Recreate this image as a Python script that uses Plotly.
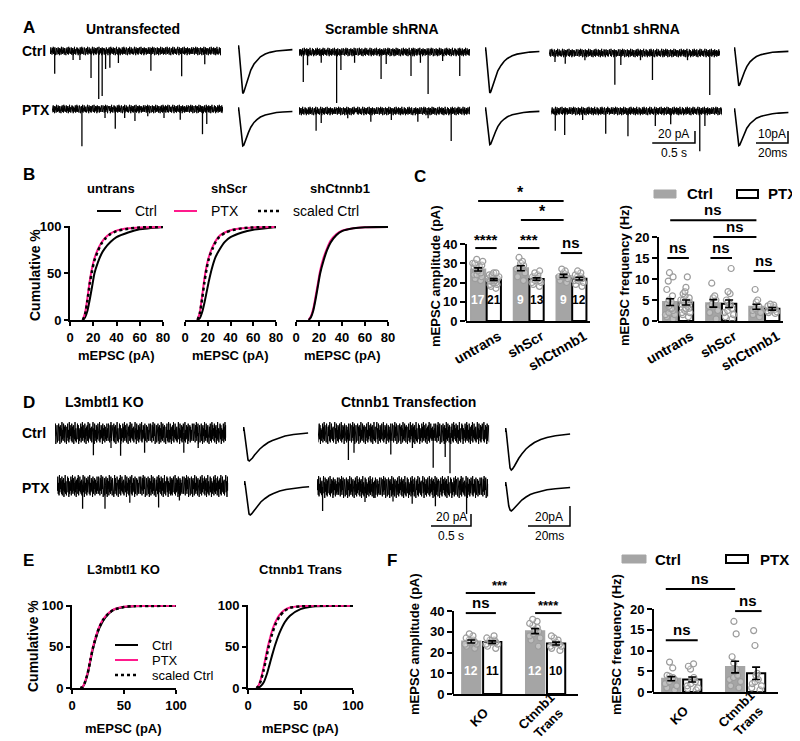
import plotly.graph_objects as go

W, H = 800, 741

# ======================= DATA =======================
# --- Panel A: example mEPSC traces, event times (s) and amplitudes (pA)
A_UNTR_CTRL_T = [0.055, 0.27, 0.35, 0.48, 0.57, 0.61, 0.65, 0.70, 0.80, 1.18, 1.54, 1.81]
A_UNTR_CTRL_AMP = [38, 15, 15, 45, 80, 75, 30, 28, 20, 33, 42, 22]
A_UNTR_PTX_T = [0.35, 0.62, 0.74, 0.85, 0.97, 1.12, 1.31, 1.50, 1.76, 1.81]
A_UNTR_PTX_AMP = [62, 15, 33, 15, 20, 12, 15, 18, 42, 25]
A_SCR_CTRL_T = [0.05, 0.10, 0.26, 0.44, 0.49, 0.65, 0.96, 1.02, 1.31, 1.42, 1.51, 1.68, 1.88]
A_SCR_CTRL_AMP = [50, 22, 18, 85, 30, 18, 45, 20, 40, 18, 70, 15, 40]
A_SCR_PTX_T = [0.20, 0.26, 0.57, 0.84, 1.08, 1.39, 1.51, 1.78]
A_SCR_PTX_AMP = [33, 20, 12, 18, 15, 18, 12, 50]
A_CTN_CTRL_T = [0.07, 0.19, 0.42, 0.77, 0.84, 1.07, 1.21, 1.62, 1.88]
A_CTN_CTRL_AMP = [15, 18, 12, 53, 20, 12, 45, 12, 70]
A_CTN_PTX_T = [0.05, 0.16, 0.37, 0.64, 0.90, 1.22, 1.40, 1.74, 1.80]
A_CTN_PTX_AMP = [33, 40, 15, 38, 42, 25, 22, 67, 25]

# --- Panel D: example traces
D_KO_CTRL_T = [0.48, 0.70, 0.82, 1.12, 1.61, 1.79]
D_KO_CTRL_AMP = [37, 25, 38, 33, 33, 25]
D_KO_PTX_T = [0.32, 0.60, 0.91, 1.27, 1.53]
D_KO_PTX_AMP = [38, 38, 28, 36, 24]
D_TR_CTRL_T = [0.38, 0.45, 0.91, 1.18, 1.44, 1.59, 1.65]
D_TR_CTRL_AMP = [45, 33, 36, 25, 58, 40, 67]
D_TR_PTX_T = [0.07, 0.60, 0.95, 1.19, 1.48, 1.87]
D_TR_PTX_AMP = [40, 25, 24, 28, 32, 45]

# baseline noise (pA), read as the band thickness of the recordings
NOISE_PA = [3, -5, 6, -4, 2, -6, 5, -3, 7, -5, 4, -2, 6, -7, 3, -4, 5, -6, 2, -3,
            6, -5, 4, -7, 5, -2, 3, -6, 7, -4, 2, -5, 6, -3, 4, -6, 5, -4, 3, -7,
            4, -3, 6, -5, 2, -6, 7, -4, 5, -2, 3, -5, 6, -6, 4, -3, 5, -7, 2, -4,
            7, -5, 3, -6, 4, -2, 6, -4, 5, -7, 3, -5, 2, -3, 6, -6, 4, -4, 7, -5,
            5, -3, 2, -6, 6, -4, 3, -7, 4, -2, 5, -5, 7, -6, 2, -3, 6, -4, 3, -5,
            4, -6, 5, -2, 7, -4, 3, -7, 6, -3, 2, -5, 5, -6, 4, -4, 6, -2, 3, -5,
            7, -6, 2, -4, 5, -3, 4, -7, 6, -5, 3, -2, 5, -6, 4, -4, 2, -5, 6, -3]
D_NOISE_GAIN = 2.6

# --- average mEPSC waveforms (time ms, current pA)
AVG_T_A = [0, 0.3, 0.6, 1.2, 1.8, 2.4, 3.0, 3.6, 4.5, 5.5, 6.5, 8, 10, 12, 14, 17, 20, 24, 28, 34]
AVG_A_UNTR_CTRL = [0, 3, 0, -10, -24, -33, -37, -36, -32, -27, -23, -17.5, -12.5, -9, -6.5, -4.2, -2.8, -1.6, -1.0, -0.5]
AVG_A_UNTR_PTX = [0, 3, 0, -8, -19, -26, -29, -28.5, -25, -21, -18, -13.5, -9.5, -7, -5, -3.3, -2.2, -1.3, -0.8, -0.4]
AVG_A_SCR_CTRL = [0, 3, 0, -9, -23, -31, -35, -34, -30.5, -26, -22, -16.5, -12, -8.5, -6.2, -4, -2.6, -1.5, -0.9, -0.4]
AVG_A_SCR_PTX = [0, 3, 0, -7, -18, -25, -28, -27.5, -24, -20.5, -17.5, -13, -9.2, -6.7, -4.8, -3.1, -2.1, -1.2, -0.7, -0.3]
AVG_A_CTN_CTRL = [0, 3, 0, -8, -19, -26, -29, -28, -24.5, -20.5, -17.5, -13, -9, -6.5, -4.6, -3, -2, -1.1, -0.7, -0.3]
AVG_A_CTN_PTX = [0, 3, 0, -7, -18, -25, -28, -27.5, -24.5, -21, -18, -13.5, -9.8, -7.2, -5.2, -3.5, -2.4, -1.5, -0.9, -0.4]
AVG_T_D = [0, 0.3, 0.6, 1.2, 1.8, 2.4, 3.0, 3.6, 4.5, 5.5, 6.5, 8, 10, 12, 14, 17, 20, 24, 28, 31]
AVG_D_KO_CTRL = [0, 4, 0, -12, -24, -29, -30, -29, -27, -24, -21.5, -18, -14.5, -11.5, -9.5, -7, -5, -3.5, -2.5, -2]
AVG_D_KO_PTX = [0, 4, 0, -12, -24, -29, -30, -29, -26.5, -23.5, -21, -17, -13.5, -10.5, -8.5, -6, -4.5, -3.2, -2.2, -1.7]
AVG_D_TR_CTRL = [0, 4, 0, -14, -29, -36, -38, -37, -34, -30, -26.5, -22, -17, -13.5, -10.5, -7.5, -5.5, -3.7, -2.6, -2]
AVG_D_TR_PTX = [0, 4, 0, -10, -20, -24, -25, -24, -22, -19.5, -17, -14, -11, -8.5, -7, -5, -3.7, -2.7, -2, -1.5]

# --- Panel B: cumulative distributions (%)
CDF_X_B = [11, 13, 15, 17, 19, 21, 24, 27, 30, 35, 40, 50, 60, 80]
B_UNTR_CTRL = [0, 3, 10, 22, 36, 50, 62, 71, 77, 84, 89, 94, 97.5, 100]
B_UNTR_PTX = [0, 8, 24, 42, 56, 66, 76, 83, 88, 93, 96, 98.5, 99.5, 100]
B_UNTR_SCALED = [0, 6, 21, 39, 53, 64, 74, 82, 87, 92.5, 95.5, 98, 99.5, 100]
B_SCR_CTRL = [0, 2, 8, 18, 30, 42, 57, 68, 75, 84, 89, 94, 97, 100]
B_SCR_PTX = [0, 8, 25, 44, 58, 68, 78, 85, 90, 94, 96.5, 98.5, 99.5, 100]
B_SCR_SCALED = [0, 7, 22, 40, 55, 66, 76, 84, 89, 93.5, 96, 98.5, 99.5, 100]
B_CTN_CTRL = [0, 3, 10, 22, 36, 50, 64, 75, 83, 91, 95.5, 98.5, 99.7, 100]
B_CTN_PTX = [0, 4, 12, 25, 39, 53, 67, 77, 85, 92, 96, 98.7, 99.7, 100]

# --- Panel C: amplitude / frequency
C_GROUPS = ["untrans", "shScr", "shCtnnb1"]
C_N_CTRL = [17, 9, 9]
C_N_PTX = [21, 13, 12]
C_AMP_CTRL = [26.8, 27.4, 23.4]
C_AMP_CTRL_SEM = [0.8, 1.3, 0.8]
C_AMP_PTX = [21.5, 21.8, 22.0]
C_AMP_PTX_SEM = [0.5, 0.6, 0.7]
C_AMP_CTRL_PTS = [[32, 31, 30, 30, 29, 29, 28, 28, 27, 27, 26, 25, 24, 24, 23, 22, 21],
                  [33, 31, 30, 29, 28, 27, 25, 23, 21],
                  [27, 26, 25, 24, 23, 23, 22, 21, 20]]
C_AMP_PTX_PTS = [[25, 25, 24, 24, 23, 23, 23, 22, 22, 22, 22, 21, 21, 21, 20, 20, 20, 19, 19, 18, 17],
                 [26, 25, 24, 23, 23, 22, 22, 21, 21, 20, 20, 19, 18],
                 [26, 25, 24, 23, 23, 22, 22, 21, 21, 20, 19, 18]]
C_FREQ_CTRL = [4.5, 4.2, 3.4]
C_FREQ_CTRL_SEM = [0.8, 0.9, 0.6]
C_FREQ_PTX = [4.4, 4.1, 2.9]
C_FREQ_PTX_SEM = [0.6, 0.9, 0.3]
C_FREQ_CTRL_PTS = [[11.5, 10.5, 9.5, 7.5, 6, 5, 4.5, 4, 3.5, 3, 3, 2.5, 2, 1.5, 1, 0.5, 1.5],
                   [9, 6, 5.5, 5, 4, 3.5, 2.5, 2, 0.5],
                   [7.5, 5, 4.5, 3.5, 3, 2.5, 2, 1.5, 1]]
C_FREQ_PTX_PTS = [[10.5, 8, 7, 6.5, 6, 5.5, 5, 5, 4.5, 4.5, 4, 4, 3.5, 3, 3, 2.5, 2, 2, 1.5, 1, 4],
                  [12.5, 7, 6.5, 5, 4.5, 4, 3.5, 3, 2.5, 2, 1.5, 1, 0.5],
                  [4, 3.8, 3.6, 3.5, 3.2, 3, 2.8, 2.6, 2.4, 2.2, 2, 1.8]]

# --- Panel E: cumulative distributions (%)
CDF_X_E = [8, 10, 12, 15, 18, 20, 23, 26, 30, 35, 40, 50, 60, 100]
E_KO_CTRL = [0, 1, 5, 17, 35, 47, 61, 72, 82, 90, 95, 98.5, 99.6, 100]
E_KO_PTX = [0, 1, 6, 18, 37, 49, 63, 74, 84, 91, 95.5, 98.8, 99.7, 100]
E_KO_SCALED = [0, 1, 5.5, 17.5, 36, 48, 62, 73, 83, 90.5, 95.2, 98.6, 99.6, 100]
E_TR_CTRL = [0, 0.5, 2, 7, 17, 26, 40, 53, 67, 80, 88, 96, 99, 100]
E_TR_PTX = [0, 3, 10, 26, 45, 56, 70, 80, 89, 95, 98, 99.5, 100, 100]
E_TR_SCALED = [0, 2, 8, 22, 40, 52, 66, 77, 87, 94, 97.5, 99.3, 99.9, 100]

# --- Panel F
F_GROUPS = ["KO", "Ctnnb1<br>Trans"]
F_N_CTRL = [12, 12]
F_N_PTX = [11, 10]
F_AMP_CTRL = [25.3, 30.3]
F_AMP_CTRL_SEM = [0.7, 1.2]
F_AMP_PTX = [25.0, 24.3]
F_AMP_PTX_SEM = [0.6, 0.7]
F_AMP_CTRL_PTS = [[29, 28, 27, 26, 26, 25, 25, 25, 24, 24, 23, 22],
                  [36, 35, 34, 33, 32, 31, 30, 29, 28, 27, 26, 23]]
F_AMP_PTX_PTS = [[28, 27, 26, 26, 25, 25, 25, 24, 24, 23, 22],
                 [28, 27, 26, 25, 24, 24, 23, 23, 22, 21]]
F_FREQ_CTRL = [3.2, 6.0]
F_FREQ_CTRL_SEM = [0.5, 1.4]
F_FREQ_PTX = [3.0, 4.5]
F_FREQ_PTX_SEM = [0.6, 1.5]
F_FREQ_CTRL_PTS = [[7.2, 5.8, 4, 3.8, 3.5, 3.2, 3, 2.5, 2, 1.5, 1, 0.5],
                   [17, 14, 8.5, 7, 5.5, 5, 4, 3.5, 3, 2.5, 1.5, 1]]
F_FREQ_PTX_PTS = [[6.8, 6.2, 5.5, 3.5, 3, 2.5, 2, 1.5, 1, 0.8, 0.5],
                  [14.8, 11.2, 4.5, 4, 3, 2.5, 2, 1.5, 1, 0.5]]

# ======================= STYLE =======================
PINK = "#ff1a8c"
GRAY_BAR = "#a5a5a5"
DOT_LINE = "#9c9c9c"
FONT = "Liberation Sans, Arial, sans-serif"

layout = dict(width=W, height=H, margin=dict(l=0, r=0, t=0, b=0),
              paper_bgcolor="white", plot_bgcolor="rgba(0,0,0,0)",
              showlegend=False, template="none", barmode="overlay",
              font=dict(family=FONT, size=13, color="black", weight="bold"))
shapes, annotations, traces = [], [], []
_n = [0]


def new_axes(x0, x1, y0, y1, xr, yr, xopt=None, yopt=None):
    _n[0] += 1
    s = "" if _n[0] == 1 else str(_n[0])
    base = dict(showgrid=False, zeroline=False, fixedrange=True)
    xa = dict(base, domain=[x0 / W, x1 / W], range=xr, anchor="y" + s)
    ya = dict(base, domain=[1 - y1 / H, 1 - y0 / H], range=yr, anchor="x" + s)
    xa.update(xopt if xopt is not None else {"visible": False})
    ya.update(yopt if yopt is not None else {"visible": False})
    layout["xaxis" + s] = xa
    layout["yaxis" + s] = ya
    return "x" + s, "y" + s


def rec_axes(x0, base, px_x, px_y, T, up, down):
    return new_axes(x0, x0 + T * px_x, base - up, base + down, [0, T], [-down / px_y, up / px_y])


def text(t, x, y, size=13, xanchor="center", yanchor="middle", bold=True, angle=0, color="black"):
    annotations.append(dict(text=t, x=x / W, y=1 - y / H, xref="paper", yref="paper",
                            showarrow=False, xanchor=xanchor, yanchor=yanchor, textangle=angle,
                            font=dict(size=size, color=color, weight="bold" if bold else "normal")))


def pline(x0, y0, x1, y1, color="black", width=2, dash="solid"):
    shapes.append(dict(type="line", xref="paper", yref="paper", x0=x0 / W, x1=x1 / W,
                       y0=1 - y0 / H, y1=1 - y1 / H, line=dict(color=color, width=width, dash=dash)))


def prect(x0, y0, x1, y1, fill, line_color, lw):
    shapes.append(dict(type="rect", xref="paper", yref="paper", x0=x0 / W, x1=x1 / W,
                       y0=1 - y1 / H, y1=1 - y0 / H, fillcolor=fill, line=dict(color=line_color, width=lw)))


def rot(lst, k):
    k = k % len(lst)
    return lst[k:] + lst[:k]


def dense_noise(src, k):
    # three passes through the hand-read noise sequence -> a dense, solid-looking band
    return rot(src, k) + rot(src, k + 37) + rot(src, k + 71)


def draw_recording(ax, T, ev_t, ev_amp, noise):
    xa, ya = ax
    n = len(noise)
    ts = [T * i / (n - 1) for i in range(n)]
    traces.append(go.Scatter(x=ts, y=noise, mode="lines", line=dict(color="black", width=1),
                             xaxis=xa, yaxis=ya, hoverinfo="skip"))
    sx, sy = [], []
    for t, a in zip(ev_t, ev_amp):
        sx += [t, t, None]
        sy += [0, -a, None]
    traces.append(go.Scatter(x=sx, y=sy, mode="lines", line=dict(color="black", width=1.3),
                             xaxis=xa, yaxis=ya, hoverinfo="skip"))


def draw_avg(ax, t, v):
    xa, ya = ax
    traces.append(go.Scatter(x=t, y=v, mode="lines", line=dict(color="black", width=1.6),
                             xaxis=xa, yaxis=ya, hoverinfo="skip"))


def scale_bar(ax, x_end, y_bot, dx, dy, lab_y, lab_x, size=12):
    xa, ya = ax
    traces.append(go.Scatter(x=[x_end - dx, x_end, x_end], y=[y_bot, y_bot, y_bot + dy], mode="lines",
                             line=dict(color="black", width=1.5), xaxis=xa, yaxis=ya, hoverinfo="skip"))
    annotations.append(dict(text=lab_y, x=x_end - dx / 2, y=y_bot, xref=xa, yref=ya, showarrow=False,
                            xanchor="center", yanchor="bottom", yshift=0, font=dict(size=size, weight="normal")))
    annotations.append(dict(text=lab_x, x=x_end - dx / 2, y=y_bot, xref=xa, yref=ya, showarrow=False,
                            xanchor="center", yanchor="top", yshift=-1, font=dict(size=size, weight="normal")))


# ======================= PANEL A =======================
text("A", 13, 19, 17, "left")
text("Untransfected", 125, 21, 14)
text("Scramble shRNA", 374, 21, 14)
text("Ctnnb1 shRNA", 622, 21, 14)
text("Ctrl", 12, 43, 14, "left")
text("PTX", 12, 102, 14, "left")

A_PXS, A_PXA = 85.5, 0.6
recs = [(42, 43, A_UNTR_CTRL_T, A_UNTR_CTRL_AMP, 0), (44, 101, A_UNTR_PTX_T, A_UNTR_PTX_AMP, 17),
        (291, 44, A_SCR_CTRL_T, A_SCR_CTRL_AMP, 33), (291, 103, A_SCR_PTX_T, A_SCR_PTX_AMP, 51),
        (541, 45, A_CTN_CTRL_T, A_CTN_CTRL_AMP, 71), (543, 103, A_CTN_PTX_T, A_CTN_PTX_AMP, 93)]
last_ax = None
for x0, b, et, ea, k in recs:
    ax = rec_axes(x0, b, A_PXS, A_PXA, 2.0, 20, 60)
    draw_recording(ax, 2.0, et, ea, dense_noise(NOISE_PA, k))
    last_ax = ax
scale_bar(last_ax, 1.684, -53.3, 0.5, 20, "20 pA", "0.5 s")

avgs = [(230, 41, AVG_A_UNTR_CTRL), (230, 103, AVG_A_UNTR_PTX), (477, 43, AVG_A_SCR_CTRL),
        (477, 103, AVG_A_SCR_PTX), (726, 43, AVG_A_CTN_CTRL), (726, 104, AVG_A_CTN_PTX)]
for x0, b, v in avgs:
    ax = rec_axes(x0, b, 1.6, 1.2, 35, 10, 52)
    draw_avg(ax, AVG_T_A, v)
    last_ax = ax
scale_bar(last_ax, 33.75, -25.8, 20, 10, "10pA", "20ms")

# ======================= PANEL D =======================
text("D", 13, 394, 17, "left")
text("L3mbtl1 KO", 96, 394, 14)
text("Ctnnb1 Transfection", 400, 394, 14)
text("Ctrl", 12, 425, 14, "left")
text("PTX", 12, 480, 14, "left")
DN = [v * D_NOISE_GAIN for v in NOISE_PA]
recs = [(47, 425, D_KO_CTRL_T, D_KO_CTRL_AMP, 11), (49, 478, D_KO_PTX_T, D_KO_PTX_AMP, 40),
        (310, 425, D_TR_CTRL_T, D_TR_CTRL_AMP, 63), (309, 479, D_TR_PTX_T, D_TR_PTX_AMP, 88)]
for x0, b, et, ea, k in recs:
    ax = rec_axes(x0, b, 80, 0.6, 2.14, 25, 60)
    draw_recording(ax, 2.14, et, ea, dense_noise(DN, k))
    last_ax = ax
scale_bar(last_ax, 1.925, -65, 0.5, 20, "20 pA", "0.5 s")
avgs = [(235, 423, AVG_D_KO_CTRL), (236, 477, AVG_D_KO_PTX), (497, 424, AVG_D_TR_CTRL), (497, 478, AVG_D_TR_PTX)]
for x0, b, v in avgs:
    ax = rec_axes(x0, b, 2.1, 1.0, 32, 10, 48)
    draw_avg(ax, AVG_T_D, v)
    last_ax = ax
scale_bar(last_ax, 30.95, -40, 20, 20, "20pA", "20ms")

# ======================= CDF panels =======================
AX_LINE = dict(showline=True, linewidth=2, linecolor="black", ticks="outside", ticklen=4,
               tickwidth=2, tickcolor="black", tickfont=dict(size=13, family=FONT, weight="bold"))


def cdf_plot(x0, x1, y0, y1, xmax, xticks, show_y, curves):
    xopt = dict(AX_LINE, tickvals=xticks)
    if show_y:
        yopt = dict(AX_LINE, tickvals=[0, 50, 100])
    else:
        yopt = dict(showline=False, showticklabels=False, ticks="")
    ax = new_axes(x0, x1, y0, y1, [0, xmax], [0, 101], xopt, yopt)
    for xs, ys, color, dash, w in curves:
        traces.append(go.Scatter(x=xs, y=ys, mode="lines", xaxis=ax[0], yaxis=ax[1], hoverinfo="skip",
                                 line=dict(color=color, width=w, dash=dash, shape="spline", smoothing=0.6)))
    return ax


text("B", 13, 166, 17, "left")
text("untrans", 103, 181, 13)
text("shScr", 221, 181, 13)
text("shCtnnb1", 332, 181, 13)
BT = [0, 20, 40, 60, 80]
cdf_plot(62, 155, 218, 312, 80, BT, True,
         [(CDF_X_B, B_UNTR_CTRL, "black", "solid", 2), (CDF_X_B, B_UNTR_PTX, PINK, "solid", 2),
          (CDF_X_B, B_UNTR_SCALED, "black", "dot", 2.5)])
cdf_plot(177, 268, 218, 312, 80, BT, False,
         [(CDF_X_B, B_SCR_CTRL, "black", "solid", 2), (CDF_X_B, B_SCR_PTX, PINK, "solid", 2),
          (CDF_X_B, B_SCR_SCALED, "black", "dot", 2.5)])
cdf_plot(288, 380, 218, 312, 80, BT, False,
         [(CDF_X_B, B_CTN_PTX, PINK, "solid", 2), (CDF_X_B, B_CTN_CTRL, "black", "solid", 2)])
text("Cumulative %", 27, 267, 14, angle=-90)
for cx in (108, 222, 334):
    text("mEPSC (pA)", cx, 347, 13)
# legend B
pline(89, 203, 113, 203, "black", 2)
text("Ctrl", 125, 203, 14, "left", bold=False)
pline(166, 203, 189, 203, PINK, 2)
text("PTX", 201, 203, 14, "left", bold=False)
pline(250, 203, 272, 203, "black", 2.5, "dot")
text("scaled Ctrl", 283, 203, 14, "left", bold=False)

text("E", 13, 552, 17, "left")
text("L3mbtl1 KO", 116, 561, 13)
text("Ctnnb1 Trans", 292, 561, 13)
ET = [0, 50, 100]
cdf_plot(64, 168, 597, 680, 100, ET, True,
         [(CDF_X_E, E_KO_CTRL, "black", "solid", 2), (CDF_X_E, E_KO_PTX, PINK, "solid", 2),
          (CDF_X_E, E_KO_SCALED, "black", "dot", 2.5)])
cdf_plot(240, 345, 597, 680, 100, ET, True,
         [(CDF_X_E, E_TR_CTRL, "black", "solid", 2), (CDF_X_E, E_TR_PTX, PINK, "solid", 2),
          (CDF_X_E, E_TR_SCALED, "black", "dot", 2.5)])
text("Cumulative %", 25, 638, 14, angle=-90)
text("mEPSC (pA)", 116, 720, 13)
text("mEPSC (pA)", 292, 720, 13)
pline(107, 637, 130, 637, "black", 2)
text("Ctrl", 142, 637, 13, "left", bold=False)
pline(107, 652, 130, 652, PINK, 2)
text("PTX", 142, 652, 13, "left", bold=False)
pline(107, 667, 130, 667, "black", 2.5, "dot")
text("scaled Ctrl", 142, 667, 13, "left", bold=False)


# ======================= BAR panels =======================
def bar_plot(x0, x1, y_zero, px_per_unit, y_top, xr, gap, off, labels, label_mode,
             ctrl, ctrl_sem, ptx, ptx_sem, ctrl_pts, ptx_pts, nc, npx, yticks, n_label_y, sig):
    ymax = (y_zero - y_top) / px_per_unit
    ng = len(labels)
    pos_c = [g * gap for g in range(ng)]
    pos_p = [g * gap + off for g in range(ng)]
    centers = [(a + b) / 2 for a, b in zip(pos_c, pos_p)]
    if label_mode == "ticks":
        xopt = dict(showline=True, linewidth=2, linecolor="black", ticks="",
                    tickvals=[c + 0.9 for c in centers], ticktext=labels, tickangle=-30,
                    tickfont=dict(size=14, family=FONT, weight="bold"))
    else:
        xopt = dict(showline=True, linewidth=2, linecolor="black", ticks="", showticklabels=False)
    yopt = dict(showline=False, ticks="outside", ticklen=5, tickwidth=2, tickcolor="black",
                tickvals=yticks, tickfont=dict(size=13, family=FONT, weight="bold"))
    xa, ya = new_axes(x0, x1, y_top, y_zero, xr, [0, ymax], xopt, yopt)
    shapes.append(dict(type="line", xref="paper", yref=ya, x0=x0 / W, x1=x0 / W, y0=0, y1=yticks[-1],
                       line=dict(color="black", width=2)))
    if label_mode != "ticks":
        for c, lab, yy in zip(centers, labels, label_mode):
            annotations.append(dict(text=lab, x=c, xref=xa, y=1 - yy / H, yref="paper", xshift=-3,
                                    xanchor="center", yanchor="middle",
                                    showarrow=False, textangle=-45,
                                    font=dict(size=13, weight="bold")))
    xs, ys, cols, lcols = [], [], [], []
    for g in range(ng):
        xs += [pos_c[g], pos_p[g]]
        ys += [ctrl[g], ptx[g]]
        cols += [GRAY_BAR, "white"]
        lcols += [GRAY_BAR, "black"]
    traces.append(go.Bar(x=xs, y=ys, width=[1.0] * len(xs), xaxis=xa, yaxis=ya, hoverinfo="skip",
                         marker=dict(color=cols, line=dict(color=lcols, width=2))))
    for g in range(ng):
        for p, pts in ((pos_c[g], ctrl_pts[g]), (pos_p[g], ptx_pts[g])):
            traces.append(go.Box(x=[p] * len(pts), y=pts, orientation="v", boxpoints="all", jitter=0.9,
                                 pointpos=0, width=0.9, fillcolor="rgba(0,0,0,0)",
                                 line=dict(color="rgba(0,0,0,0)", width=0), xaxis=xa, yaxis=ya,
                                 hoverinfo="skip",
                                 marker=dict(symbol="circle", size=6, color="rgba(255,255,255,0.3)",
                                             line=dict(color=DOT_LINE, width=1.2))))
    sems = []
    for g in range(ng):
        sems += [ctrl_sem[g], ptx_sem[g]]
    traces.append(go.Scatter(x=xs, y=ys, mode="markers", marker=dict(size=1, color="rgba(0,0,0,0)"),
                             error_y=dict(type="data", array=sems, color="black", thickness=1.6, width=4),
                             xaxis=xa, yaxis=ya, hoverinfo="skip"))
    for g in range(ng):
        annotations.append(dict(text=str(nc[g]), x=pos_c[g], y=n_label_y, xref=xa, yref=ya, showarrow=False,
                                xanchor="center", yanchor="middle",
                                font=dict(size=12, color="white", weight="bold")))
        annotations.append(dict(text=str(npx[g]), x=pos_p[g], y=n_label_y, xref=xa, yref=ya, showarrow=False,
                                xanchor="center", yanchor="middle",
                                font=dict(size=12, color="black", weight="bold")))
    for (a, b, yv, lab, fs) in sig(pos_c, pos_p):
        shapes.append(dict(type="line", xref=xa, yref=ya, x0=a, x1=b, y0=yv, y1=yv,
                           line=dict(color="black", width=2)))
        annotations.append(dict(text=lab, x=(a + b) / 2, y=yv, xref=xa, yref=ya, showarrow=False,
                                xanchor="center", yanchor="bottom", yshift=-2 if "*" in lab else 0,
                                font=dict(size=fs, weight="bold")))
    return xa, ya


text("C", 404, 168, 17, "left")
E = 0.2
bar_plot(458, 582, 313, 1.925, 175, [-0.85, 7.85], 3.0, 1.1, C_GROUPS, "ticks",
         C_AMP_CTRL, C_AMP_CTRL_SEM, C_AMP_PTX, C_AMP_PTX_SEM, C_AMP_CTRL_PTS, C_AMP_PTX_PTS,
         C_N_CTRL, C_N_PTX, [0, 10, 20, 30, 40], 11,
         lambda c, p: [(c[0], c[2], 62.3, "*", 16), (c[1], c[2], 52.5, "*", 16),
                       (c[0] - E, p[0] + E, 37.9, "****", 15), (c[1] - E, p[1] + E, 37.9, "***", 15),
                       (c[2] - E, p[2] + E, 35.3, "ns", 15)])
text("mEPSC amplitude (pA)", 427, 268, 13, angle=-90)

bar_plot(650, 775, 313, 4.2, 195, [-0.85, 7.85], 3.0, 1.1, C_GROUPS, "ticks",
         C_FREQ_CTRL, C_FREQ_CTRL_SEM, C_FREQ_PTX, C_FREQ_PTX_SEM, C_FREQ_CTRL_PTS, C_FREQ_PTX_PTS,
         ["", "", ""], ["", "", ""], [0, 5, 10, 15, 20], 2.5,
         lambda c, p: [(c[0], c[2], 24.0, "ns", 15), (c[1], c[2], 20.0, "ns", 15),
                       (c[0] - E, p[0] + E, 15.0, "ns", 15), (c[1] - E, p[1] + E, 15.0, "ns", 15),
                       (c[2] - E, p[2] + E, 11.9, "ns", 15)])
text("mEPSC frequency (Hz)", 616, 268, 13, angle=-90)
prect(646, 182, 668, 190, GRAY_BAR, GRAY_BAR, 1)
text("Ctrl", 677, 186, 15, "left")
prect(729, 182, 750, 190, "white", "black", 2)
text("PTX", 758, 186, 15, "left")

text("F", 377, 552, 17, "left")
bar_plot(445, 570, 686, 2.075, 570, [-1.0, 5.85], 3.5, 1.15, F_GROUPS, [709, 709],
         F_AMP_CTRL, F_AMP_CTRL_SEM, F_AMP_PTX, F_AMP_PTX_SEM, F_AMP_CTRL_PTS, F_AMP_PTX_PTS,
         F_N_CTRL, F_N_PTX, [0, 10, 20, 30, 40], 11,
         lambda c, p: [(c[0] - 0.3, c[1], 48.7, "***", 13), (c[0] - 0.3, p[0] + 0.2, 39, "ns", 15),
                       (c[1], p[1] + 0.3, 39, "****", 13)])
text("mEPSC amplitude (pA)", 406, 636, 13, angle=-90)
bar_plot(645, 770, 684, 4.15, 566, [-1.0, 5.85], 3.5, 1.15, F_GROUPS, [707, 707],
         F_FREQ_CTRL, F_FREQ_CTRL_SEM, F_FREQ_PTX, F_FREQ_PTX_SEM, F_FREQ_CTRL_PTS, F_FREQ_PTX_PTS,
         ["", ""], ["", ""], [0, 5, 10, 15, 20], 2.5,
         lambda c, p: [(c[0] - 0.3, c[1], 24.8, "ns", 15), (c[0] - 0.3, p[0] + 0.3, 12.5, "ns", 15),
                       (c[1], p[1] + 0.3, 19.5, "ns", 15)])
text("mEPSC frequency (Hz)", 608, 637, 13, angle=-90)
prect(614, 547, 638, 555, GRAY_BAR, GRAY_BAR, 1)
text("Ctrl", 645, 551, 15, "left")
prect(718, 547, 740, 555, "white", "black", 2)
text("PTX", 750, 551, 15, "left")

layout["shapes"] = shapes
layout["annotations"] = annotations
fig = go.Figure(data=traces, layout=layout)
fig.write_html("out.html")
